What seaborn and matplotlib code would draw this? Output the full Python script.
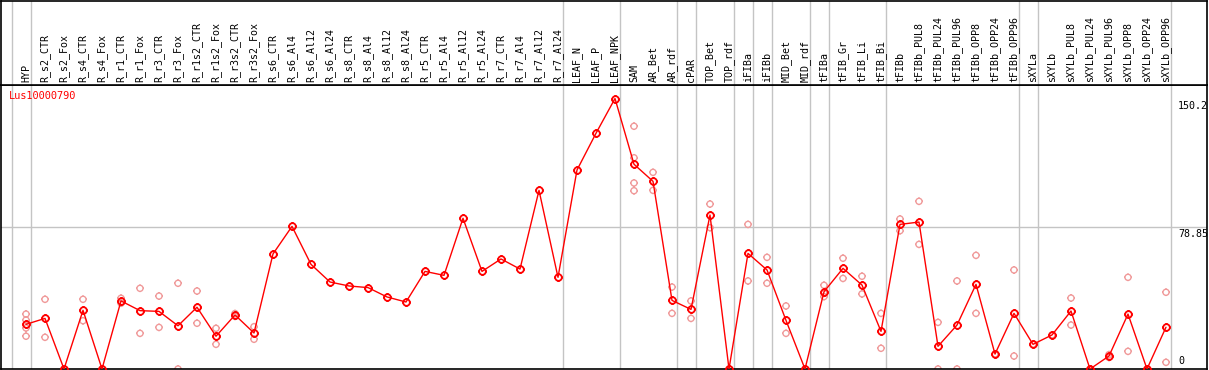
"""
Expression profile of one gene across the sample panel, drawn as a
browser-style strip: sample names on top, group separators, replicate
dots in pale red and the per-sample mean as a red line.

Run::

    python plot.py
"""

import matplotlib

matplotlib.use("Agg")
import matplotlib.pyplot as plt          # noqa: E402
import numpy as np                       # noqa: E402
import pandas as pd                      # noqa: E402
import seaborn as sns                    # noqa: E402
from matplotlib.path import Path         # noqa: E402

GENE = "Lus10000790"

samples = [
    "HYP",
    "R_s2_CTR", "R_s2_Fox", "R_s4_CTR", "R_s4_Fox",
    "R_r1_CTR", "R_r1_Fox", "R_r3_CTR", "R_r3_Fox",
    "R_r1s2_CTR", "R_r1s2_Fox", "R_r3s2_CTR", "R_r3s2_Fox",
    "R_s6_CTR", "R_s6_Al4", "R_s6_Al12", "R_s6_Al24",
    "R_s8_CTR", "R_s8_Al4", "R_s8_Al12", "R_s8_Al24",
    "R_r5_CTR", "R_r5_Al4", "R_r5_Al12", "R_r5_Al24",
    "R_r7_CTR", "R_r7_Al4", "R_r7_Al12", "R_r7_Al24",
    "LEAF_N", "LEAF_P", "LEAF_NPK",
    "SAM", "AR_Bet", "AR_rdf", "cPAR", "TOP_Bet", "TOP_rdf",
    "iFIBa", "iFIBb", "MID_Bet", "MID_rdf",
    "tFIBa", "tFIB_Gr", "tFIB_Li", "tFIB_Bi",
    "tFIBb", "tFIBb_PUL8", "tFIBb_PUL24", "tFIBb_PUL96",
    "tFIBb_OPP8", "tFIBb_OPP24", "tFIBb_OPP96",
    "sXYLa", "sXYLb", "sXYLb_PUL8", "sXYLb_PUL24", "sXYLb_PUL96",
    "sXYLb_OPP8", "sXYLb_OPP24", "sXYLb_OPP96",
]

means = [
    24.8,
    28.1, 0.0, 32.6, 0.0,
    37.8, 32.4, 32.0, 24.0,
    34.3, 18.2, 30.0, 20.0,
    63.9, 79.2, 58.1, 48.3,
    46.1, 45.2, 40.0, 37.2,
    54.2, 52.0, 83.7, 54.2,
    61.1, 55.5, 99.2, 50.9,
    110.5, 130.9, 150.2,
    113.7, 104.2, 38.1, 33.1, 85.5, 0.0,
    64.2, 55.0, 27.0, 0.0,
    42.9, 55.9, 46.6, 20.9,
    80.3, 81.6, 12.6, 24.4,
    47.0, 8.3, 30.9,
    13.7, 18.9, 32.2, 0.0, 7.2,
    30.5, 0.0, 23.2,
]

# individual replicates (empty = single sample, hidden under the mean)
replicates = [
    [30.5, 27.2, 22.8, 18.2],
    [38.7, 17.6], [0.0, 0.0], [38.7, 26.8], [0.0, 0.0],
    [39.3, 36.5], [44.8, 19.8], [40.5, 23.1], [47.6, 0.0],
    [43.3, 25.4], [22.6, 13.7], [30.8, 29.2], [23.5, 16.5],
    [], [], [], [],
    [], [], [], [],
    [], [], [], [],
    [], [], [], [],
    [], [], [],
    [134.8, 117.3, 103.3, 99.0], [109.2, 99.2], [45.5, 30.9],
    [37.8, 28.1], [91.6, 78.5], [0.0, 0.0],
    [80.3, 48.9], [62.0, 47.6], [35.0, 19.8], [0.0, 0.0],
    [46.5, 42.0, 40.2], [61.5, 50.3], [51.5, 41.7], [30.9, 11.5],
    [83.3, 76.8], [93.1, 69.2], [25.9, 0.0], [48.9, 0.0],
    [63.1, 30.9], [8.3], [55.0, 7.2],
    [13.7], [18.9], [39.4, 24.4], [0.0, 0.0], [8.0, 6.4],
    [50.9, 9.8], [0.0, 0.0], [42.6, 3.7],
]

# group separators sit just right of these sample indices
group_breaks = [-1, 0, 28, 31, 34, 35, 37, 38, 39, 41, 42, 45, 52, 53, 60]

ytick_values = [0.0, 78.85, 150.2]
ytick_labels = ["0", "78.85", "150.2"]
Y_TOP = 157.7

RED = "#ff0000"
PALE = "#f09a9a"
GRID = "#c4c4c4"
MONO = "DejaVu Sans Mono"

# circle with four short ticks poking out, like the browser's marker
_ticks = Path(
    [(0, 1), (0, 1.25), (0, -1), (0, -1.25), (1, 0), (1.25, 0), (-1, 0), (-1.25, 0)],
    [Path.MOVETO, Path.LINETO] * 4,
)
TICK_CIRCLE = Path.make_compound_path(Path.unit_circle(), _ticks)


def main() -> None:
    sns.set_style("white")
    plt.rcParams["font.family"] = [MONO, "DejaVu Sans"]

    n = len(samples)
    pos = np.arange(n)
    df_mean = pd.DataFrame({"pos": pos, "sample": samples, "value": means})
    df_rep = pd.DataFrame(
        [(i, v) for i, reps in enumerate(replicates) for v in reps],
        columns=["pos", "value"],
    )

    W, H = 1209, 370
    fig = plt.figure(figsize=(W / 100, H / 100), dpi=100)
    ax = fig.add_axes([1 / W, 1 / H, 1206 / W, 284 / H])
    head = fig.add_axes([1 / W, 285 / H, 1206 / W, 84.5 / H])

    xlim = (-1.316, n + 1.158)
    for a in (ax, head):
        a.set_xlim(*xlim)
        a.set_xticks([])
        a.set_yticks([])
        for sp in a.spines.values():
            sp.set_color("black")
            sp.set_linewidth(1.2)
        for b in group_breaks:
            a.axvline(b + 0.25, color=GRID, lw=1, zorder=0)
    head.set_ylim(0, 1)
    ax.set_ylim(0, Y_TOP)
    ax.axhline(Y_TOP / 2, color=GRID, lw=1, zorder=0)

    sns.scatterplot(
        data=df_rep, x="pos", y="value", ax=ax,
        marker=TICK_CIRCLE, s=30, color=PALE, facecolor="none",
        edgecolor=PALE, linewidth=1.0, zorder=2, legend=False,
    )
    sns.lineplot(
        data=df_mean, x="pos", y="value", ax=ax,
        color=RED, lw=1.0, marker=TICK_CIRCLE, markersize=6,
        markerfacecolor="none", markeredgecolor=RED, markeredgewidth=1.3,
        zorder=3, legend=False,
    )
    ax.set_xlabel("")
    ax.set_ylabel("")
    ax.set_xlim(*xlim)
    ax.set_ylim(0, Y_TOP)

    # sample names, rotated, sitting on the header's bottom line
    for i, name in enumerate(samples):
        head.text(i, 0.03, name, rotation=90, ha="center", va="bottom",
                  fontsize=7.2, color="black")

    ax.text(0.0066, 0.978, GENE, transform=ax.transAxes, ha="left", va="top",
            fontsize=7.4, color=RED)

    label_x = n - 1 + 0.63
    for v, lab in zip(ytick_values, ytick_labels):
        if v == 0:
            ax.annotate(lab, (label_x, v), xytext=(0, 2.5), textcoords="offset points",
                        ha="left", va="bottom", fontsize=7.2, color="black")
        else:
            ax.annotate(lab, (label_x, v), xytext=(0, -1.5), textcoords="offset points",
                        ha="left", va="top", fontsize=7.2, color="black")

    fig.savefig("out.png", dpi=100, facecolor="white")
    plt.close(fig)


if __name__ == "__main__":
    main()
